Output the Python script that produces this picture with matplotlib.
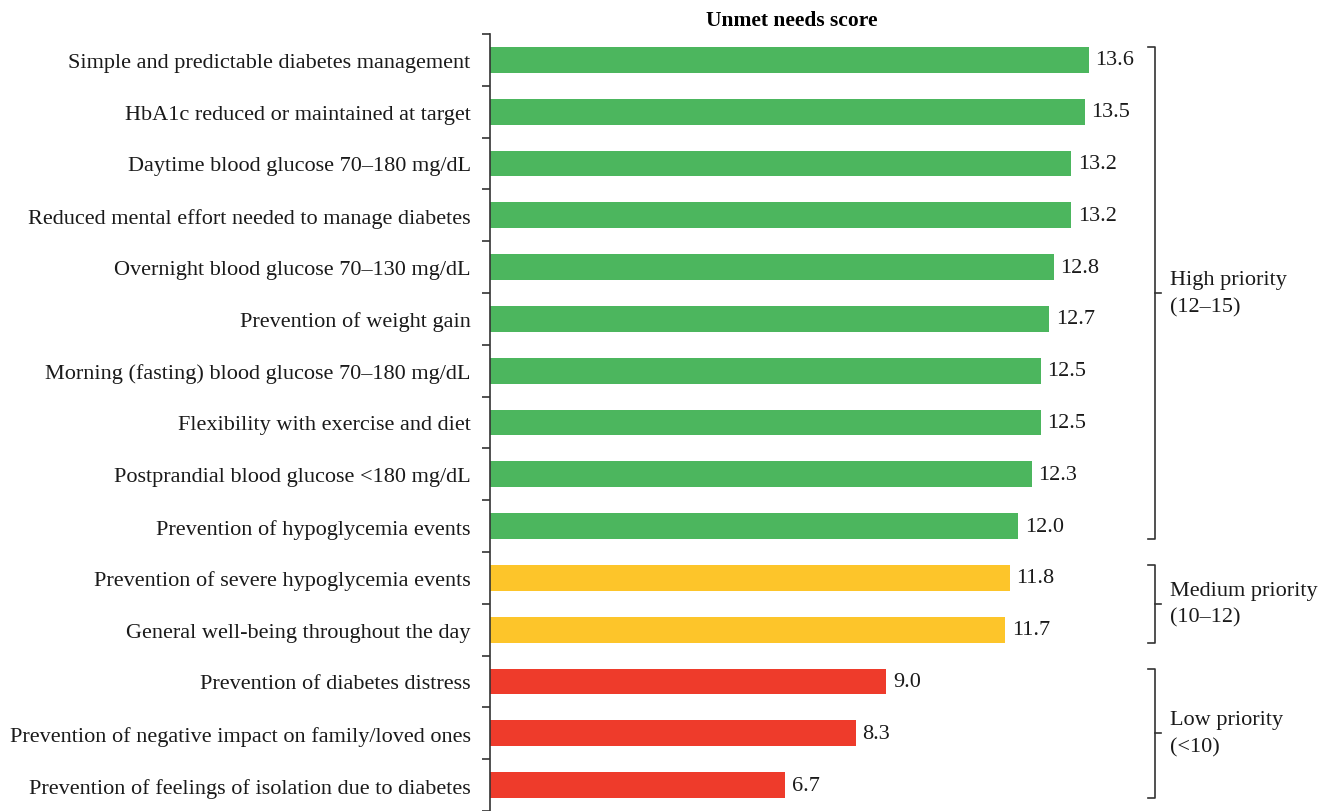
import numpy as np
import matplotlib.pyplot as plt

plt.rcParams['font.family'] = ['Liberation Serif', 'DejaVu Serif']

needs = [
    "Simple and predictable diabetes management",
    "HbA1c reduced or maintained at target",
    "Daytime blood glucose 70\u2013180 mg/dL",
    "Reduced mental effort needed to manage diabetes",
    "Overnight blood glucose 70\u2013130 mg/dL",
    "Prevention of weight gain",
    "Morning (fasting) blood glucose 70\u2013180 mg/dL",
    "Flexibility with exercise and diet",
    "Postprandial blood glucose <180 mg/dL",
    "Prevention of hypoglycemia events",
    "Prevention of severe hypoglycemia events",
    "General well-being throughout the day",
    "Prevention of diabetes distress",
    "Prevention of negative impact on family/loved ones",
    "Prevention of feelings of isolation due to diabetes",
]
scores = [13.6, 13.5, 13.2, 13.2, 12.8, 12.7, 12.5, 12.5, 12.3, 12.0,
          11.8, 11.7, 9.0, 8.3, 6.7]
priority = ["high"] * 10 + ["medium"] * 2 + ["low"] * 3

group_names = ["High priority\n(12\u201315)", "Medium priority\n(10\u201312)", "Low priority\n(<10)"]
group_rows = [(0, 9), (10, 11), (12, 14)]

colors = {"high": "#4CB65E", "medium": "#FDC52A", "low": "#EE3B2B"}

W, H = 1319, 812
fs = 16
fig = plt.figure(figsize=(W / 100, H / 100), dpi=100)
ax = fig.add_axes([490 / W, 0, 660.6 / W, 1 - 35 / H])

y = np.arange(len(needs))
ax.barh(y, scores, height=0.5, color=[colors[p] for p in priority])

for yi, s in zip(y, scores):
    ax.text(s + 0.15, yi, f"{s:.1f}", va="center", ha="left", fontsize=fs, color="#1a1a1a")

ax.set_xlim(0, 15)
ax.set_ylim(14.47, -0.5)

ax.set_yticks(y)
ax.set_yticklabels(needs, fontsize=fs, color="#1a1a1a")
ax.tick_params(axis="y", which="major", length=0, pad=14)
ax.set_yticks(np.arange(-0.5, 15, 1), minor=True)
ax.tick_params(axis="y", which="minor", length=6, width=1.2, color="#333333")
ax.set_xticks([])

for sp in ["top", "right", "bottom"]:
    ax.spines[sp].set_visible(False)
ax.spines["left"].set_linewidth(1.2)
ax.spines["left"].set_color("#333333")

fig.text(792 / W, 1 - 21 / H, "Unmet needs score", ha="center", va="center",
         fontsize=15.5, fontweight="bold")

# group brackets
bx = 15.1
for name, (r0, r1) in zip(group_names, group_rows):
    top = r0 - 0.25
    bot = r1 + 0.25
    mid = (top + bot) / 2
    ax.plot([bx - 0.15, bx, bx, bx - 0.15], [top, top, bot, bot],
            color="#333333", lw=1.2, clip_on=False)
    ax.plot([bx, bx + 0.13], [mid, mid], color="#333333", lw=1.2, clip_on=False)
    ax.text(bx + 0.33, mid, name, ha="left", va="center", fontsize=fs,
            color="#1a1a1a", linespacing=1.55, clip_on=False)

fig.savefig("out.png", dpi=100)
